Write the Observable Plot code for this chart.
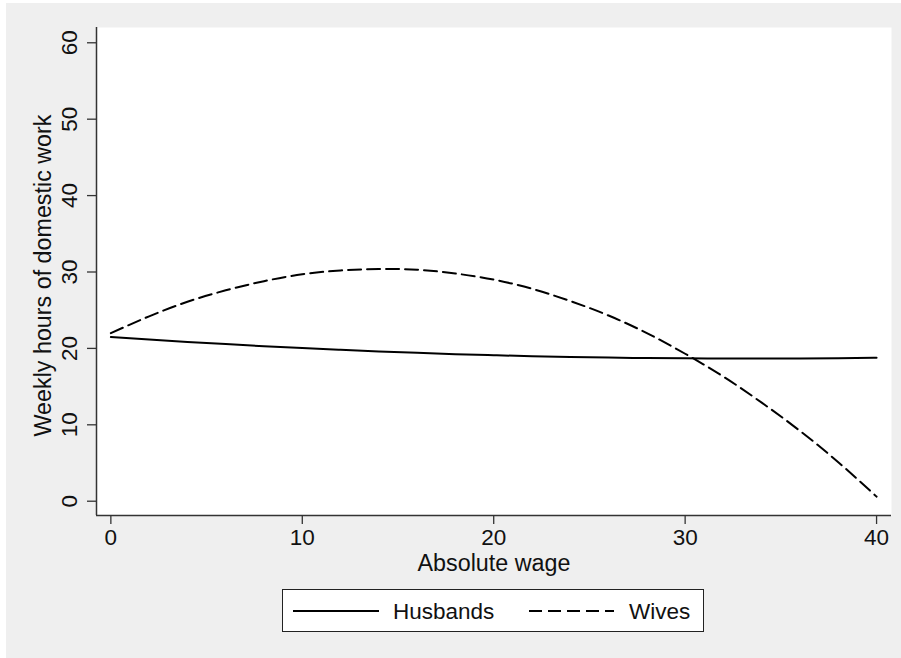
<!DOCTYPE html>
<html>
<head>
<meta charset="utf-8">
<script src="https://cdn.jsdelivr.net/npm/d3@7"></script>
<script src="https://cdn.jsdelivr.net/npm/@observablehq/plot@0.6"></script>
<style>
  body { margin: 0; background: #ffffff; }
  #page { position: relative; width: 901px; height: 658px; overflow: hidden;
          font-family: "Liberation Sans", Arial, Helvetica, sans-serif; color: #111; }
  #bg { position: absolute; left: 6px; top: 3px; right: 0; bottom: 0; background: #efefef; }
  #chart { position: absolute; left: 0; top: 0; }
  #legend { position: absolute; left: 282px; top: 589px; width: 420px; height: 41px;
            border: 1.5px solid #222; background: #fff; }
  #legend svg { position: absolute; left: 0; top: 0; }
</style>
</head>
<body>
<div id="page">
  <div id="bg"></div>
  <div id="chart"></div>
  <div id="legend"></div>
</div>
<script>
// ---- data ----
const wage = [0, 2, 4, 6, 8, 10, 12, 14, 16, 18, 20, 22, 24, 26, 28, 30, 32, 34, 36, 38, 40];
const husbands = [21.5, 21.17, 20.85, 20.56, 20.29, 20.04, 19.82, 19.61, 19.42, 19.25, 19.11,
                  18.98, 18.88, 18.80, 18.74, 18.70, 18.67, 18.67, 18.69, 18.72, 18.78];
const wives = [22.0, 24.2, 26.1, 27.6, 28.8, 29.7, 30.2, 30.4, 30.3, 29.8, 29.0,
               27.8, 26.2, 24.3, 22.0, 19.3, 16.3, 12.9, 9.2, 5.1, 0.6];
const seriesNames = ["Husbands", "Wives"];
const xTicks = [0, 10, 20, 30, 40];
const yTicks = [0, 10, 20, 30, 40, 50, 60];
const xDomain = [-0.75, 40.78];
const yDomain = [-1.87, 62.0];
const xTitle = "Absolute wage";
const yTitle = "Weekly hours of domestic work";

const rows = [];
wage.forEach((w, i) => {
  rows.push({wage: w, hours: husbands[i], group: seriesNames[0]});
  rows.push({wage: w, hours: wives[i], group: seriesNames[1]});
});

const DASH = "13,6";
const FONT = "\"Liberation Sans\", Arial, Helvetica, sans-serif";

const chart = Plot.plot({
  width: 901,
  height: 580,
  marginLeft: 96,
  marginRight: 10,
  marginTop: 27,
  marginBottom: 65,
  style: {fontSize: "22.5px", fontFamily: FONT, background: "transparent", color: "#111", overflow: "visible"},
  x: {domain: xDomain, label: null},
  y: {domain: yDomain, label: null},
  marks: [
    Plot.frame({fill: "white", stroke: "none"}),
    Plot.line(rows.filter(d => d.group === seriesNames[0]), {
      x: "wage", y: "hours", stroke: "#000", strokeWidth: 2, curve: "natural"
    }),
    Plot.line(rows.filter(d => d.group === seriesNames[1]), {
      x: "wage", y: "hours", stroke: "#000", strokeWidth: 2, curve: "natural", strokeDasharray: DASH
    }),
    Plot.ruleX([xDomain[0]], {stroke: "#333", strokeWidth: 1.5}),
    Plot.ruleY([yDomain[0]], {stroke: "#333", strokeWidth: 1.5}),
    Plot.axisY({ticks: yTicks, tickSize: 9, tickPadding: 11, tickRotate: -90, label: null,
                stroke: "#333", strokeWidth: 1.3, fill: "#111"}),
    Plot.axisX({ticks: xTicks, tickSize: 9, tickPadding: 5, label: null,
                stroke: "#333", strokeWidth: 1.3, fill: "#111"}),
    Plot.text([xTitle], {text: d => d, frameAnchor: "bottom", dy: 55, textAnchor: "middle", lineAnchor: "bottom", fill: "#111", fontSize: 23.3}),
    Plot.text([yTitle], {text: d => d, frameAnchor: "left", dx: -46, dy: 4, rotate: -90, textAnchor: "middle", lineAnchor: "bottom", fill: "#111", fontSize: 23.3})
  ]
});
document.getElementById("chart").appendChild(chart);

// ---- legend ----
const lg = d3.select("#legend").append("svg").attr("width", 420).attr("height", 41)
  .style("font-family", FONT).style("font-size", "22.5px");
const ly = 21;
lg.append("line").attr("x1", 10).attr("x2", 96).attr("y1", ly).attr("y2", ly)
  .attr("stroke", "#000").attr("stroke-width", 2);
lg.append("text").attr("x", 110).attr("y", ly + 8).attr("fill", "#111").text(seriesNames[0]);
lg.append("line").attr("x1", 246).attr("x2", 331).attr("y1", ly).attr("y2", ly)
  .attr("stroke", "#000").attr("stroke-width", 2).attr("stroke-dasharray", DASH);
lg.append("text").attr("x", 346).attr("y", ly + 8).attr("fill", "#111").text(seriesNames[1]);
</script>
</body>
</html>
